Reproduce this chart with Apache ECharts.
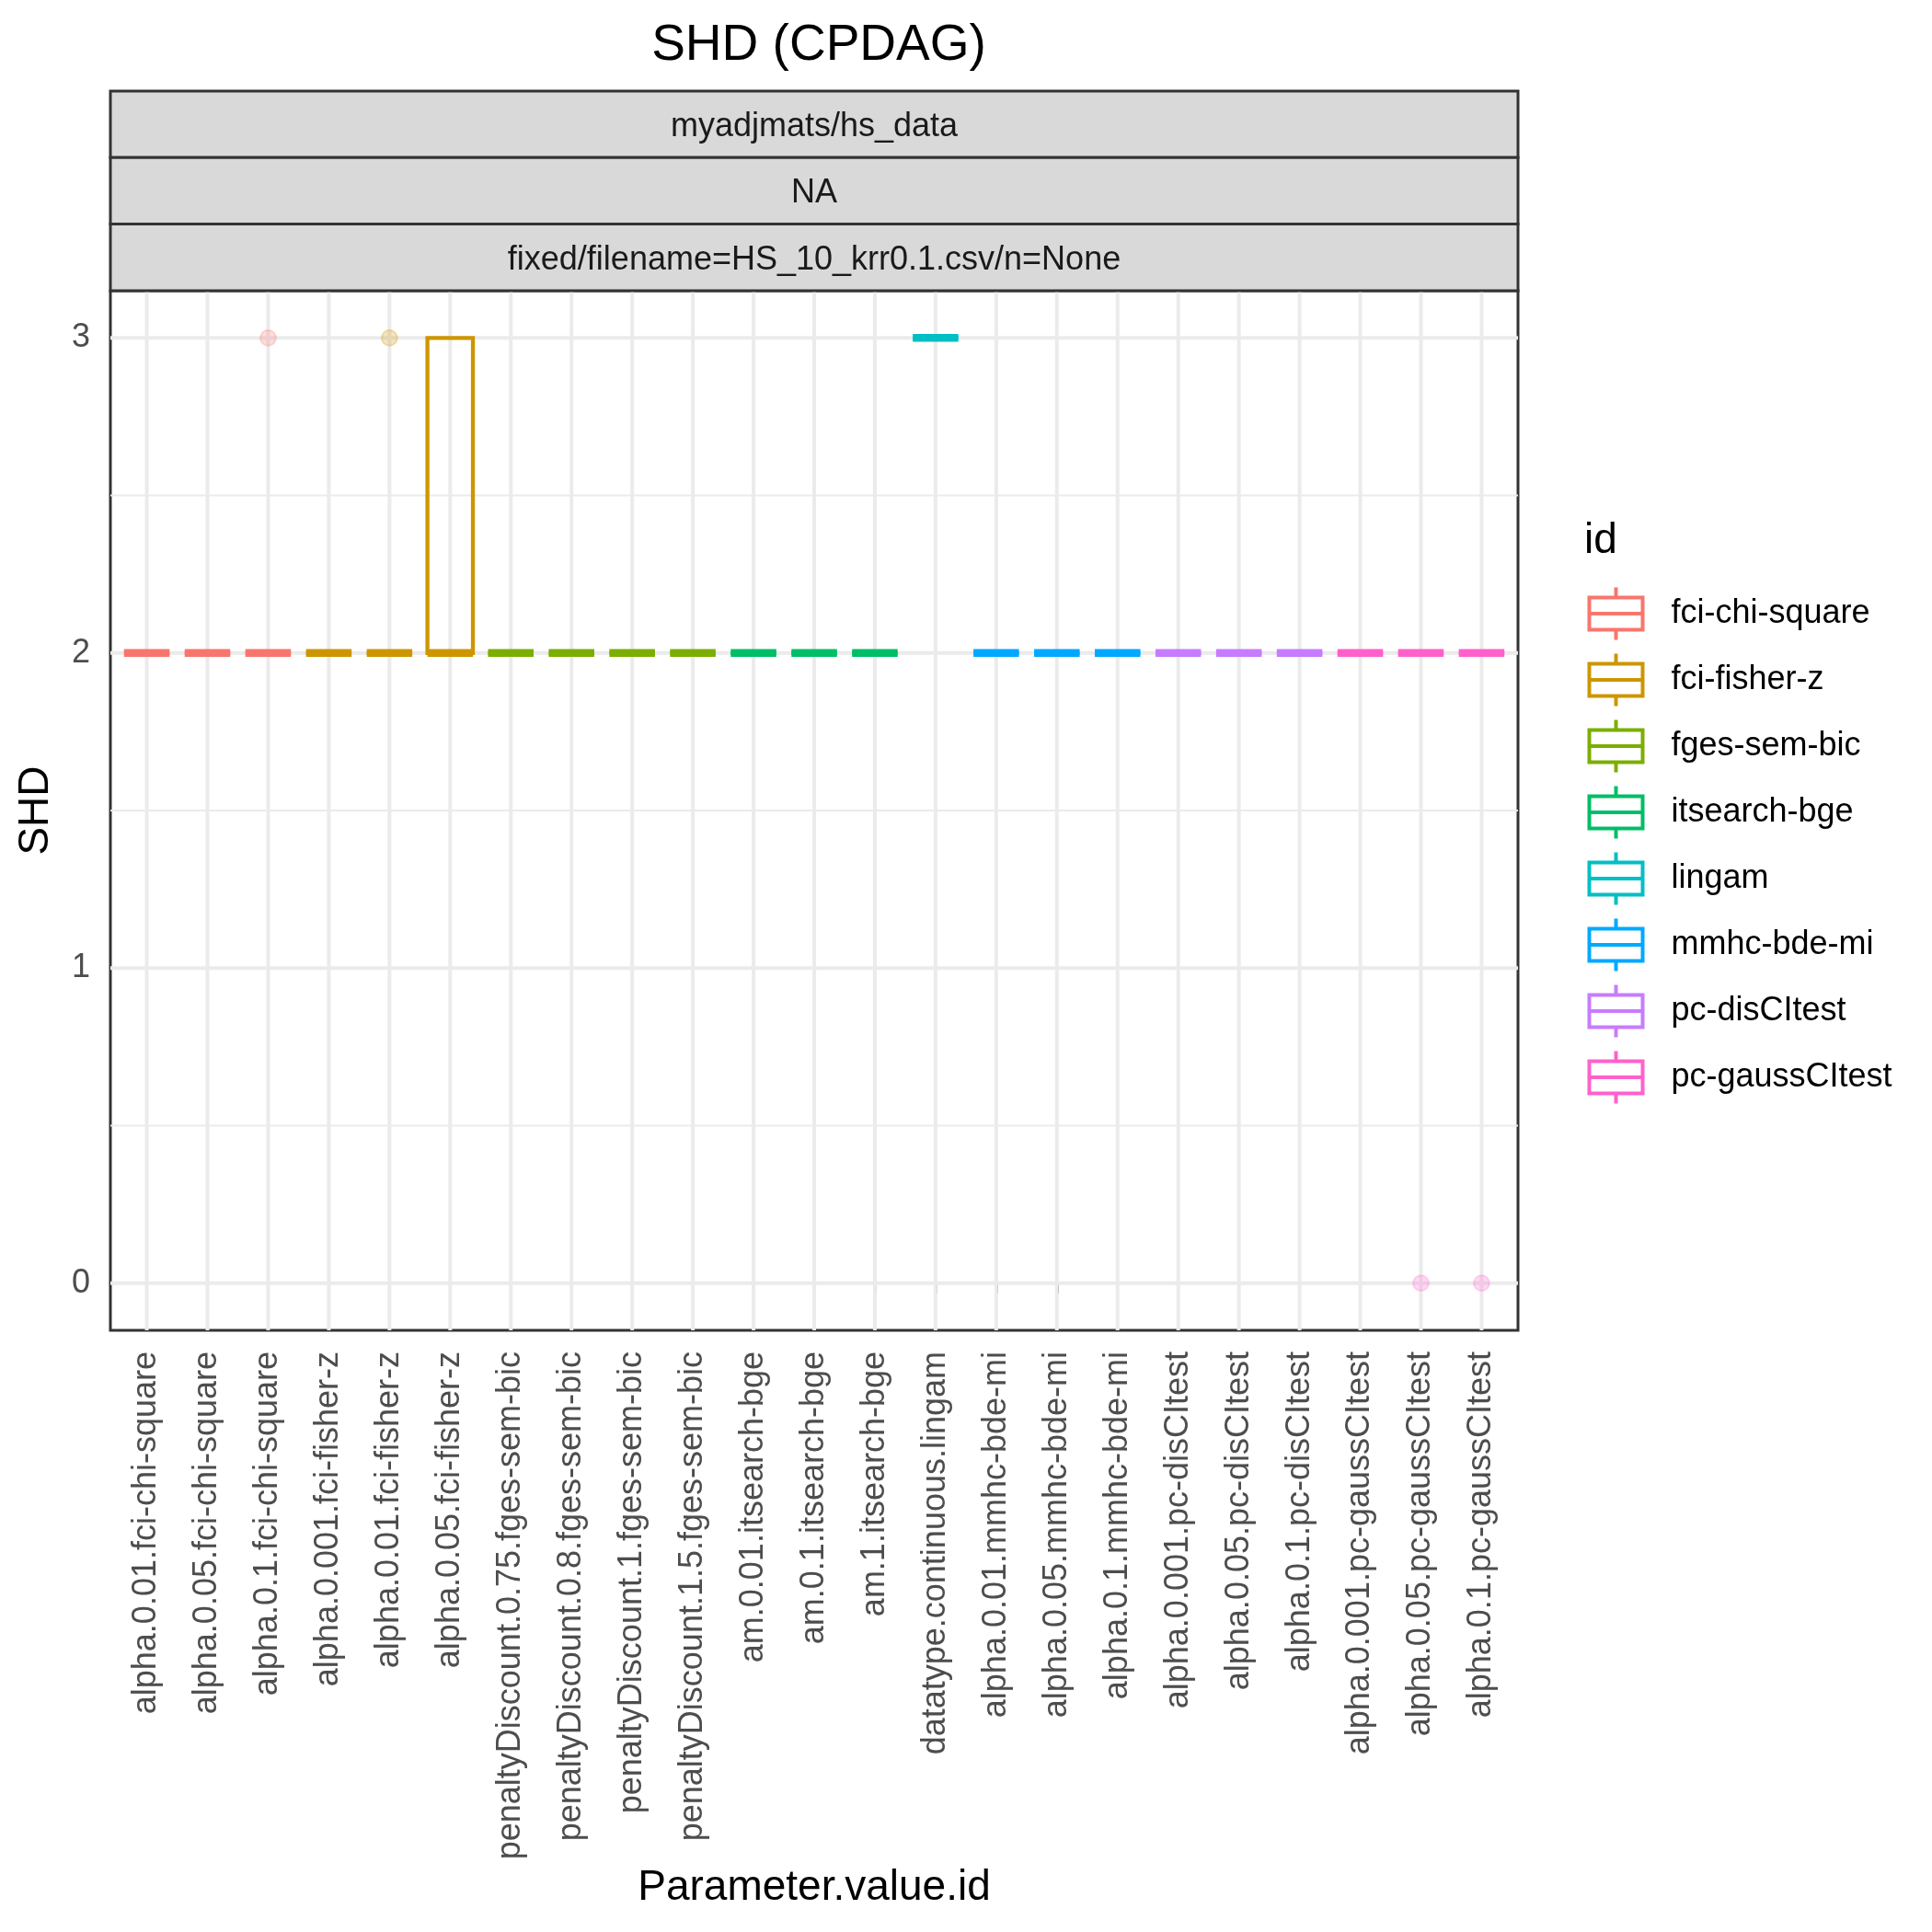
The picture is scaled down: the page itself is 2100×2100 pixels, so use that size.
<!DOCTYPE html>
<html>
<head>
<meta charset="utf-8">
<script src="https://cdn.jsdelivr.net/npm/echarts@6/dist/echarts.min.js"></script>
<style>
html,body{margin:0;padding:0;background:#fff;}
#chart{width:2100px;height:2100px;}
</style>
</head>
<body>
<div id="chart"></div>
<script>
// ---------------- data ----------------
const chartTitle = 'SHD (CPDAG)';
const stripLabels = ['myadjmats/hs_data', 'NA', 'fixed/filename=HS_10_krr0.1.csv/n=None'];
const categories = [
  'alpha.0.01.fci-chi-square', 'alpha.0.05.fci-chi-square', 'alpha.0.1.fci-chi-square',
  'alpha.0.001.fci-fisher-z', 'alpha.0.01.fci-fisher-z', 'alpha.0.05.fci-fisher-z',
  'penaltyDiscount.0.75.fges-sem-bic', 'penaltyDiscount.0.8.fges-sem-bic',
  'penaltyDiscount.1.fges-sem-bic', 'penaltyDiscount.1.5.fges-sem-bic',
  'am.0.01.itsearch-bge', 'am.0.1.itsearch-bge', 'am.1.itsearch-bge',
  'datatype.continuous.lingam',
  'alpha.0.01.mmhc-bde-mi', 'alpha.0.05.mmhc-bde-mi', 'alpha.0.1.mmhc-bde-mi',
  'alpha.0.001.pc-disCItest', 'alpha.0.05.pc-disCItest', 'alpha.0.1.pc-disCItest',
  'alpha.0.001.pc-gaussCItest', 'alpha.0.05.pc-gaussCItest', 'alpha.0.1.pc-gaussCItest'
];
const ids = ['fci-chi-square', 'fci-fisher-z', 'fges-sem-bic', 'itsearch-bge',
             'lingam', 'mmhc-bde-mi', 'pc-disCItest', 'pc-gaussCItest'];
const idColors = ['#F8766D', '#CD9600', '#7CAE00', '#00BE67', '#00BFC4', '#00A9FF', '#C77CFF', '#FF61CC'];
const categoryId = [0,0,0, 1,1,1, 2,2,2,2, 3,3,3, 4, 5,5,5, 6,6,6, 7,7,7];
// box statistics per category
const boxLower  = [2,2,2, 2,2,2, 2,2,2,2, 2,2,2, 3, 2,2,2, 2,2,2, 2,2,2];
const boxQ1     = [2,2,2, 2,2,2, 2,2,2,2, 2,2,2, 3, 2,2,2, 2,2,2, 2,2,2];
const boxMedian = [2,2,2, 2,2,2, 2,2,2,2, 2,2,2, 3, 2,2,2, 2,2,2, 2,2,2];
const boxQ3     = [2,2,2, 2,2,3, 2,2,2,2, 2,2,2, 3, 2,2,2, 2,2,2, 2,2,2];
const boxUpper  = [2,2,2, 2,2,3, 2,2,2,2, 2,2,2, 3, 2,2,2, 2,2,2, 2,2,2];
// outliers: [category index, value]
const outliers = [[2, 3], [4, 3], [21, 0], [22, 0]];
const yTicks = [0, 1, 2, 3];
const yMinorGrid = [0.5, 1.5, 2.5];
const xTitle = 'Parameter.value.id';
const yTitle = 'SHD';
const legendTitle = 'id';

// ---------------- layout ----------------
const FONT = '"Liberation Sans", Arial, Helvetica, sans-serif';
const P = {left: 120, top: 316, width: 1530, height: 1130};
const stripTop = 99, stripH = 72.3;

function hexA(hex, a) {
  const n = parseInt(hex.slice(1), 16);
  return 'rgba(' + ((n >> 16) & 255) + ',' + ((n >> 8) & 255) + ',' + (n & 255) + ',' + a + ')';
}

const chart = echarts.init(document.getElementById('chart'), null, {renderer: 'canvas'});

const series = [];
// grid lines (drawn through the axes' scales)
series.push({
  type: 'custom', name: '_hgrid', silent: true, z: 1,
  data: yTicks.map(v => [v, 4]).concat(yMinorGrid.map(v => [v, 2])),
  renderItem: function (params, api) {
    const cs = params.coordSys;
    const y = api.coord([0, api.value(0)])[1];
    return {type: 'line', shape: {x1: cs.x, y1: y, x2: cs.x + cs.width, y2: y},
            style: {stroke: '#EBEBEB', lineWidth: api.value(1)}};
  },
  encode: {x: -1, y: 0}
});
series.push({
  type: 'custom', name: '_vgrid', silent: true, z: 1,
  data: categories.map((c, i) => [i]),
  renderItem: function (params, api) {
    const cs = params.coordSys;
    const x = api.coord([api.value(0), 0])[0];
    return {type: 'line', shape: {x1: x, y1: cs.y, x2: x, y2: cs.y + cs.height},
            style: {stroke: '#EBEBEB', lineWidth: 4}};
  },
  encode: {x: 0, y: -1}
});

function boxRender(params, api) {
  const x = api.value(0);
  const lo = api.value(1), q1 = api.value(2), md = api.value(3), q3 = api.value(4), hi = api.value(5);
  const cx = api.coord([x, md])[0];
  const half = api.size([0.75, 0])[0] / 2;
  const yLo = api.coord([x, lo])[1], yQ1 = api.coord([x, q1])[1], yMd = api.coord([x, md])[1];
  const yQ3 = api.coord([x, q3])[1], yHi = api.coord([x, hi])[1];
  const color = api.visual('color');
  const children = [];
  if (hi > q3) children.push({type: 'line', shape: {x1: cx, y1: yQ3, x2: cx, y2: yHi}, style: {stroke: color, lineWidth: 4.3}});
  if (lo < q1) children.push({type: 'line', shape: {x1: cx, y1: yQ1, x2: cx, y2: yLo}, style: {stroke: color, lineWidth: 4.3}});
  children.push({type: 'rect', shape: {x: cx - half, y: yQ3, width: 2 * half, height: yQ1 - yQ3},
                 style: {fill: 'none', stroke: color, lineWidth: 4.3, lineJoin: 'miter'}});
  children.push({type: 'line', shape: {x1: cx - half, y1: yMd, x2: cx + half, y2: yMd},
                 style: {stroke: color, lineWidth: 8.5, lineCap: 'butt'}});
  return {type: 'group', children: children};
}

ids.forEach((id, k) => {
  const data = [];
  categories.forEach((c, i) => {
    if (categoryId[i] === k) data.push([i, boxLower[i], boxQ1[i], boxMedian[i], boxQ3[i], boxUpper[i]]);
  });
  series.push({
    type: 'custom', name: id, z: 3,
    itemStyle: {color: idColors[k]},
    data: data,
    renderItem: boxRender,
    encode: {x: 0, y: [1, 2, 3, 4, 5]}
  });
  const out = outliers.filter(o => categoryId[o[0]] === k);
  if (out.length) {
    series.push({
      type: 'scatter', name: id, z: 4, symbol: 'circle', symbolSize: 17,
      itemStyle: {color: hexA(idColors[k], 0.3), borderColor: hexA(idColors[k], 0.3), borderWidth: 2},
      data: out
    });
  }
});

const boxIcon = 'path://M29,0L29,11M0,11L58,11L58,46L0,46ZM0,28.5L58,28.5M29,46L29,57';

const graphics = [];
stripLabels.forEach((s, i) => {
  const y0 = stripTop + i * stripH;
  graphics.push({type: 'rect', z: 10, shape: {x: P.left, y: y0, width: P.width, height: stripH},
                 style: {fill: '#D9D9D9', stroke: '#333333', lineWidth: 3}});
  graphics.push({type: 'text', z: 11, x: P.left + P.width / 2, y: y0 + stripH / 2 + 3,
                 style: {text: s, fill: '#1A1A1A', font: '36px ' + FONT, align: 'center', verticalAlign: 'middle'}});
});

const option = {
  backgroundColor: '#ffffff',
  animation: false,
  textStyle: {fontFamily: FONT},
  title: [
    {text: chartTitle, left: 885, top: 17, textAlign: 'center',
     textStyle: {fontSize: 55, fontWeight: 'normal', color: '#000', fontFamily: FONT}},
    {text: legendTitle, left: 1717, top: 560,
     textStyle: {fontSize: 46, fontWeight: 'normal', color: '#000', fontFamily: FONT}}
  ],
  grid: {left: P.left, top: P.top, width: P.width, height: P.height, show: true,
         backgroundColor: '#fff', borderColor: '#333333', borderWidth: 3, containLabel: false},
  xAxis: {
    type: 'value', min: -0.6, max: 22.6,
    name: xTitle, nameLocation: 'middle', nameGap: 578,
    nameTextStyle: {fontSize: 46, color: '#000', fontFamily: FONT},
    axisLine: {show: false},
    splitLine: {show: false},
    axisTick: {show: true, length: 11, customValues: categories.map((c, i) => i),
               lineStyle: {color: '#333333', width: 3}},
    axisLabel: {show: true, rotate: 90, margin: 23, fontSize: 36, color: '#4D4D4D', fontFamily: FONT,
                customValues: categories.map((c, i) => i),
                formatter: v => categories[Math.round(v)] || ''}
  },
  yAxis: {
    type: 'value', min: -0.15, max: 3.15,
    name: yTitle, nameLocation: 'middle', nameGap: 58,
    nameTextStyle: {fontSize: 46, color: '#000', fontFamily: FONT},
    axisLine: {show: false},
    splitLine: {show: false},
    axisTick: {show: true, length: 11, customValues: yTicks, lineStyle: {color: '#333333', width: 3}},
    axisLabel: {show: true, margin: 22, fontSize: 36, color: '#4D4D4D', fontFamily: FONT,
                customValues: yTicks, formatter: v => String(v)}
  },
  legend: {
    orient: 'vertical', left: 1720, top: 631,
    itemWidth: 58, itemHeight: 57, itemGap: 10,
    selectedMode: false,
    textStyle: {fontSize: 36, color: '#000', fontFamily: FONT, padding: [0, 0, 0, 26]},
    data: ids.map((id, k) => ({name: id, icon: boxIcon,
      itemStyle: {color: 'none', borderColor: idColors[k], borderWidth: 4}}))
  },
  graphic: graphics,
  series: series
};
chart.setOption(option);
</script>
</body>
</html>
